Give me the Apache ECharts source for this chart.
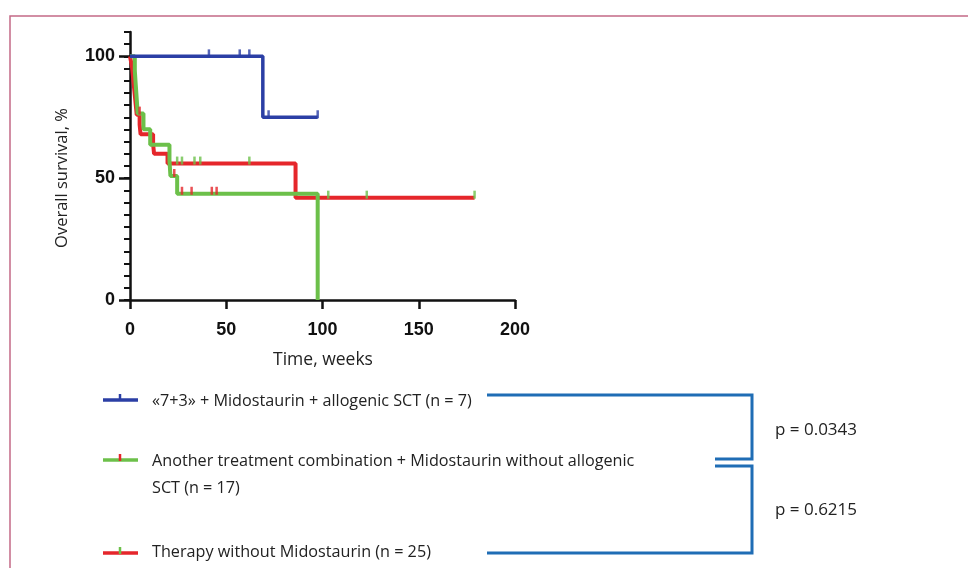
<!DOCTYPE html>
<html>
<head>
<meta charset="utf-8">
<script src="https://cdn.jsdelivr.net/npm/echarts@6/dist/echarts.min.js"></script>
<style>
html,body{margin:0;padding:0;background:#fff;}
#chart{width:968px;height:568px;}
</style>
</head>
<body>
<div id="chart"></div>
<script>
// Kaplan-Meier step data: [time (weeks), survival %]
const blueCurve = [[0,100],[69,75],[97.5,75]];
const blueCensor = [[41,100],[57,100],[62,100],[72,75],[97.5,75]];

const redCurve = [[0,100],[1,96],[1.5,92],[2,88],[2.5,84],[3,80],[3.5,76],[5,72],[5.5,68],[12,64],[12.5,60],[19.5,56],[86,42],[179,42]];
const redCensor = [[24.5,56],[27,56],[33.5,56],[36.5,56],[62,56],[103,42],[123,42],[179,42]];

const greenCurve = [[0,100],[2.5,94.1],[3,88.2],[3.5,82.4],[4,76.5],[7,70.1],[10.5,63.7],[20.5,57.3],[21,50.9],[24.5,43.6],[97.5,0]];
const greenCensor = [[5,76.5],[23,50.9],[27,43.6],[32,43.6],[42.5,43.6],[45,43.6]];

const xTicks = [0,50,100,150,200];
const yLabelTicks = [0,50,100];

const legendLabels = [
  '«7+3» + Midostaurin + allogenic SCT (n = 7)',
  'Another treatment combination + Midostaurin without allogenic\nSCT (n = 17)',
  'Therapy without Midostaurin (n = 25)'
];
const pValues = ['p = 0.0343','p = 0.6215'];

const BLUE = '#2b3fa5', RED = '#e5262b', GREEN = '#6cc04a', BRACKET = '#1f6db5';

const chart = echarts.init(document.getElementById('chart'));
const tickSym = {symbol:'rect', symbolSize:[2.5,8], symbolOffset:[0,-3]};
const axisFont = {fontFamily:'Liberation Sans', fontWeight:'bold', fontSize:18, color:'#111'};
const txtFont = '"Open Sans", sans-serif';

function legendMarker(y, lineColor, tickColor){
  return [
    {type:'line', shape:{x1:103,y1:y,x2:138,y2:y}, style:{stroke:lineColor, lineWidth:3.5}},
    {type:'line', shape:{x1:120,y1:y+1,x2:120,y2:y-6}, style:{stroke:tickColor, lineWidth:2.5}}
  ];
}

chart.setOption({
  animation:false,
  grid:{left:130, top:32, width:385, height:268, containLabel:false},
  xAxis:{
    type:'value', min:0, max:200, interval:50,
    axisLine:{lineStyle:{color:'#111', width:2.5}},
    axisTick:{length:9, lineStyle:{width:2.5, color:'#111'}},
    axisLabel:{...axisFont, margin:21, customValues:xTicks},
    splitLine:{show:false}
  },
  yAxis:[
    {type:'value', min:0, max:110, interval:5, position:'left',
     axisLine:{show:true, lineStyle:{color:'#111', width:2.5}},
     axisTick:{show:true, length:6, lineStyle:{width:2, color:'#111'}},
     axisLabel:{show:false}, splitLine:{show:false}},
    {type:'value', min:0, max:110, interval:5, position:'left',
     axisLine:{show:false},
     axisTick:{show:true, length:11, customValues:yLabelTicks, lineStyle:{width:2.5, color:'#111'}},
     axisLabel:{...axisFont, margin:15, customValues:yLabelTicks}, splitLine:{show:false}}
  ],
  series:[
    {type:'line', step:'end', data:redCurve, showSymbol:false, lineStyle:{color:RED, width:4}, z:2},
    {type:'scatter', data:redCensor, ...tickSym, itemStyle:{color:GREEN}, z:3},
    {type:'line', step:'end', data:greenCurve, showSymbol:false, lineStyle:{color:GREEN, width:4}, z:4},
    {type:'scatter', data:greenCensor, ...tickSym, itemStyle:{color:RED}, z:5},
    {type:'line', step:'end', data:blueCurve, showSymbol:false, lineStyle:{color:BLUE, width:3.5}, z:6},
    {type:'scatter', data:blueCensor, ...tickSym, itemStyle:{color:BLUE}, z:7}
  ],
  graphic:[
    {type:'rect', shape:{x:10,y:16,width:980,height:580}, style:{fill:'none', stroke:'#c46a86', lineWidth:1.5}, silent:true},
    {type:'text', x:62, y:178, rotation:Math.PI/2, style:{text:'Overall survival, %', font:'16.5px '+txtFont, fill:'#222', align:'center', verticalAlign:'middle'}},
    {type:'text', x:323, y:360, style:{text:'Time, weeks', font:'17.5px '+txtFont, fill:'#222', align:'center', verticalAlign:'middle'}},
    ...legendMarker(400, BLUE, BLUE),
    ...legendMarker(460, GREEN, RED),
    ...legendMarker(553, RED, GREEN),
    {type:'text', x:152, y:401, style:{text:legendLabels[0], font:'16.2px '+txtFont, fill:'#222', verticalAlign:'middle'}},
    {type:'text', x:152, y:448, style:{text:legendLabels[1], font:'16.2px '+txtFont, fill:'#222', verticalAlign:'top', lineHeight:27}},
    {type:'text', x:152, y:552, style:{text:legendLabels[2], font:'16.2px '+txtFont, fill:'#222', verticalAlign:'middle'}},
    {type:'polyline', shape:{points:[[487,395],[752,395],[752,459],[715,459]]}, style:{stroke:BRACKET, lineWidth:3, fill:'none'}},
    {type:'polyline', shape:{points:[[715,466],[752,466],[752,553],[487,553]]}, style:{stroke:BRACKET, lineWidth:3, fill:'none'}},
    {type:'text', x:775, y:430, style:{text:pValues[0], font:'17px '+txtFont, fill:'#222', verticalAlign:'middle'}},
    {type:'text', x:775, y:510, style:{text:pValues[1], font:'17px '+txtFont, fill:'#222', verticalAlign:'middle'}}
  ]
});
</script>
</body>
</html>
